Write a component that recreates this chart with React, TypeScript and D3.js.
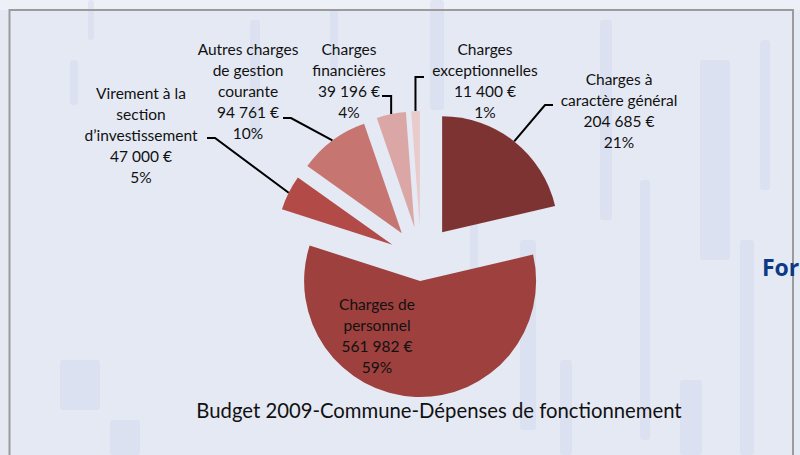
import React from "react";
import * as d3 from "d3";

const categories = [
  "Charges à caractère général",
  "Charges de personnel",
  "Virement à la section d’investissement",
  "Autres charges de gestion courante",
  "Charges financières",
  "Charges exceptionnelles",
];
const values = [204685, 561982, 47000, 94761, 39196, 11400];
const labelLines = [
  ["Charges à", "caractère général"],
  ["Charges de", "personnel"],
  ["Virement à la", "section", "d’investissement"],
  ["Autres charges", "de gestion", "courante"],
  ["Charges", "financières"],
  ["Charges", "exceptionnelles"],
];
const sliceColors = ["#7e3333", "#9d403e", "#b24a48", "#c77571", "#dba7a6", "#e9cbcb"];
const title = "Budget 2009-Commune-Dépenses de fonctionnement";

// layout (positions of label blocks, explode distances)
const W = 800;
const H = 455;
const center = { x: 421, y: 259 };
const radius = 116;
const explode = [34, 22, 32, 32, 32, 32];
const labelLayout = [
  { x: 619, y: 85, leader: [553, 105] },
  { x: 377, y: 310, leader: null },
  { x: 141, y: 99, leader: [207, 138] },
  { x: 248, y: 55, leader: [283, 118] },
  { x: 349, y: 55, leader: [382, 96] },
  { x: 485, y: 55, leader: [424, 77] },
];
const lineH = 21;

const streaks = [
  [88, 0, 6, 40], [70, 60, 8, 45], [250, 20, 10, 120], [430, 0, 14, 110],
  [470, 150, 8, 180], [520, 240, 16, 190], [600, 20, 12, 200], [640, 180, 10, 260],
  [700, 60, 30, 200], [740, 240, 14, 215], [760, 40, 10, 150], [60, 360, 40, 50],
  [110, 420, 30, 35], [560, 360, 12, 95], [330, 10, 8, 60], [680, 380, 22, 75],
];

const frLocale = d3.formatLocale({
  decimal: ",",
  thousands: "\u00a0",
  grouping: [3],
  currency: ["", "\u00a0€"],
});
const fmtMoney = frLocale.format("$,.0f");

export default function App() {
  const total = d3.sum(values);
  const pie = d3
    .pie<number>()
    .sort(null)
    .value((d) => d)
    .startAngle(0)
    .endAngle(2 * Math.PI);
  const arcs = pie(values);
  const arcGen = d3.arc<d3.PieArcDatum<number>>().innerRadius(0).outerRadius(radius);

  const font = "Lato, 'Open Sans', sans-serif";

  return (
    <div style={{ position: "fixed", left: 0, top: 0, width: W, height: H, overflow: "hidden" }}>
      <svg width={W} height={H} style={{ display: "block" }}>
        <rect x={0} y={0} width={W} height={H} fill="#e5e9f4" />
        <rect x={0} y={0} width={W} height={10} fill="#eef0f8" />
        {streaks.map((s, i) => (
          <rect key={i} x={s[0]} y={s[1]} width={s[2]} height={s[3]} fill="#ccd5ea" opacity={0.4} rx={3} />
        ))}
        <rect x={9.5} y={10} width={783.5} height={H + 20} fill="none" stroke="#9b9b9b" strokeWidth={2} />

        {arcs.map((a, i) => {
          const mid = (a.startAngle + a.endAngle) / 2;
          const ox = center.x + explode[i] * Math.sin(mid);
          const oy = center.y - explode[i] * Math.cos(mid);
          return (
            <path
              key={categories[i]}
              d={arcGen(a) || ""}
              transform={`translate(${ox},${oy})`}
              fill={sliceColors[i]}
            />
          );
        })}

        {arcs.map((a, i) => {
          const L = labelLayout[i];
          if (!L.leader) return null;
          const mid = (a.startAngle + a.endAngle) / 2;
          const ox = center.x + explode[i] * Math.sin(mid);
          const oy = center.y - explode[i] * Math.cos(mid);
          const px = ox + radius * Math.sin(mid);
          const py = oy - radius * Math.cos(mid);
          const [sx, sy] = L.leader;
          let ex = sx + (px > sx ? 8 : -8);
          if (Math.abs(px - sx) < 12) ex = px;
          return (
            <polyline
              key={"l" + i}
              points={`${sx},${sy} ${ex},${sy} ${px},${py}`}
              fill="none"
              stroke="#000"
              strokeWidth={2}
            />
          );
        })}

        {arcs.map((a, i) => {
          const L = labelLayout[i];
          const pct = Math.round((values[i] / total) * 100) + "%";
          const lines = [...labelLines[i], fmtMoney(values[i]), pct];
          return (
            <text
              key={"t" + i}
              x={L.x}
              y={L.y}
              textAnchor="middle"
              fontFamily={font}
              fontSize={15.5}
              fill="#111"
            >
              {lines.map((ln, j) => (
                <tspan key={j} x={L.x} y={L.y + j * lineH}>
                  {ln}
                </tspan>
              ))}
            </text>
          );
        })}

        <text x={439} y={418} textAnchor="middle" fontFamily={font} fontSize={20.3} fill="#111">
          {title}
        </text>

        <text x={762} y={276} fontFamily="'Open Sans', sans-serif" fontWeight={700} fontSize={23} fill="#0d3a85">
          For
        </text>
      </svg>
    </div>
  );
}
